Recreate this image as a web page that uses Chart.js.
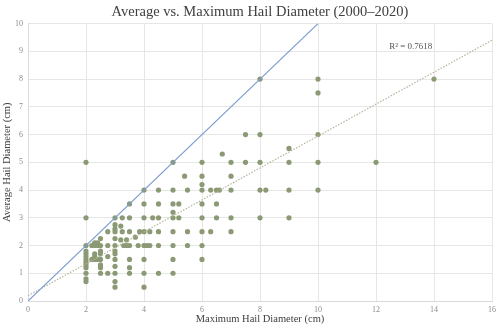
<!DOCTYPE html>
<html>
<head>
<meta charset="utf-8">
<script src="https://cdn.jsdelivr.net/npm/chart.js@4.4.1/dist/chart.umd.min.js"></script>
<style>
  html, body { margin: 0; padding: 0; background: #fff; }
</style>
</head>
<body>
<canvas id="hailChart" width="500" height="329"></canvas>
<script>
// Observations: maximum vs. average hail diameter (cm)
const maxDiameter = [
  2, 2, 2, 2, 2, 2, 2, 2, 2, 2, 2, 2, 2,
  2.2, 2.3, 2.4, 2.3, 2.4, 2.5, 2.5, 2.3, 2.3, 2.5, 2.5, 2.2, 2.3, 2.4, 2.5, 2.5, 2.5, 2.5,
  2.75, 2.75, 2.75, 2.75,
  3, 3, 3, 3, 3, 3, 3, 3, 3, 3, 3, 3, 3,
  3.25, 3.2, 3.25, 3.2, 3.3, 3.4, 3.4, 3.5, 3.5, 3.5, 3.5, 3.5, 3.5, 3.5, 3.7, 3.8, 3.85,
  4, 4, 4, 4, 4, 4, 4, 4, 4.1, 4.2, 4.2, 4.3,
  4.5, 4.5, 4.5, 4.5, 4.5, 4.5,
  5, 5, 5, 5.0, 5, 5, 5, 5, 5,
  5.2, 5.2, 5.4, 5.5, 5.5, 5.5,
  6, 6, 6, 6, 6, 6, 6, 6, 6,
  6.3, 6.3, 6.5, 6.5, 6.5, 6.6, 6.7,
  7, 7, 7, 7, 7, 7.5, 7.5,
  8, 8, 8, 8, 8, 8.2,
  9, 9, 9, 9,
  10, 10, 10, 10, 10,
  12, 14
];
const avgDiameter = [
  5, 3, 2, 1.8, 1.7, 1.6, 1.5, 1.4, 1.3, 1.2, 1, 0.8, 0.7,
  2, 2.1, 2.1, 2, 2, 2, 2.25, 1.7, 1.6, 1.7, 1.8, 1.5, 1.5, 1.5, 1.5, 1.3, 1.2, 1,
  2.5, 2, 1.6, 1,
  3, 2.75, 2.6, 2.5, 2.25, 2, 1.8, 1.7, 1.5, 1.25, 1, 0.7, 0.5,
  3, 2.7, 2.5, 2.2, 2, 2.2, 2, 3.5, 3, 2.5, 2, 1.5, 1.2, 1, 2.3, 2, 2.5,
  4, 3.5, 3, 2.5, 2, 1.5, 1, 0.5, 2, 2, 2.5, 3,
  4, 3.5, 3, 2.5, 2, 1,
  5, 4, 3.5, 3.2, 3, 2.5, 2, 1.5, 1,
  3.5, 3, 4.5, 4, 2.5, 2,
  5, 4.5, 4.2, 4, 3.5, 3, 2.5, 2, 1.5,
  4, 2.5, 4, 3.5, 3, 4, 5.3,
  5, 4.5, 4, 3, 2.5, 6, 5,
  8, 6, 5, 4, 3, 4,
  5.5, 5, 4, 3,
  8, 7.5, 6, 5, 4,
  5, 8
];

// 1:1 reference line and the linear trend line (end points)
const equalLineX = [0, 10];
const equalLineY = [0, 10];
const trendLineX = [0, 16];
const trendLineY = [0.19, 9.4];
const rSquaredLabel = 'R² = 0.7618';

// Axis ranges
const xTickRange = [0, 16, 2];
const yTickRange = [0, 10, 1];

const toPoints = (xs, ys) => xs.map((x, i) => ({ x: x, y: ys[i] }));

const serif = '"Liberation Serif", "DejaVu Serif", serif';

// Draws the R² note next to the trend line
const rSquaredPlugin = {
  id: 'rSquared',
  afterDatasetsDraw(chart) {
    const { ctx, scales } = chart;
    ctx.save();
    ctx.font = '9px ' + serif;
    ctx.fillStyle = '#555';
    ctx.textAlign = 'center';
    ctx.textBaseline = 'middle';
    ctx.fillText(rSquaredLabel, scales.x.getPixelForValue(13.2), scales.y.getPixelForValue(9.16));
    ctx.restore();
  }
};

new Chart(document.getElementById('hailChart'), {
  type: 'scatter',
  data: {
    datasets: [
      {
        label: 'Equal',
        type: 'line',
        data: toPoints(equalLineX, equalLineY),
        borderColor: '#7b9bd0',
        borderWidth: 1.2,
        pointRadius: 0,
        fill: false
      },
      {
        label: 'Trend',
        type: 'line',
        data: toPoints(trendLineX, trendLineY),
        borderColor: '#b5b49a',
        borderWidth: 1.2,
        borderDash: [1.5, 1.5],
        pointRadius: 0,
        fill: false
      },
      {
        label: 'Hail',
        data: toPoints(maxDiameter, avgDiameter),
        backgroundColor: '#8b9a74',
        borderColor: '#8b9a74',
        borderWidth: 0,
        pointRadius: 2.6
      }
    ]
  },
  options: {
    responsive: false,
    animation: false,
    layout: { padding: { left: 0, right: 7, top: 0, bottom: 0 } },
    plugins: {
      legend: { display: false },
      tooltip: { enabled: false },
      title: {
        display: true,
        fullSize: false,
        text: 'Average vs. Maximum Hail Diameter (2000–2020)',
        color: '#404040',
        font: { family: serif, size: 14.5, weight: 'normal' },
        padding: { top: 3, bottom: 3.2 }
      }
    },
    scales: {
      x: {
        type: 'linear',
        min: xTickRange[0],
        max: xTickRange[1],
        ticks: { stepSize: xTickRange[2], color: '#8c8c8c', font: { family: serif, size: 8 }, padding: 4 },
        grid: { color: '#e6e6e6', drawTicks: false },
        border: { color: '#d9d9d9' },
        title: {
          display: true,
          text: 'Maximum Hail Diameter (cm)',
          color: '#404040',
          font: { family: serif, size: 10.5 },
          padding: { top: 0, bottom: 3 }
        },
        afterFit: s => { s.height = 28; }
      },
      y: {
        type: 'linear',
        min: yTickRange[0],
        max: yTickRange[1],
        ticks: { stepSize: yTickRange[2], color: '#8c8c8c', font: { family: serif, size: 8 }, padding: 5 },
        grid: { color: '#e6e6e6', drawTicks: false },
        border: { color: '#d9d9d9' },
        title: {
          display: true,
          text: 'Average Hail Diameter (cm)',
          color: '#404040',
          font: { family: serif, size: 10.5 },
          padding: { top: 1, bottom: 0 }
        },
        afterFit: s => { s.width = 28; }
      }
    }
  },
  plugins: [rSquaredPlugin]
});
</script>
</body>
</html>
